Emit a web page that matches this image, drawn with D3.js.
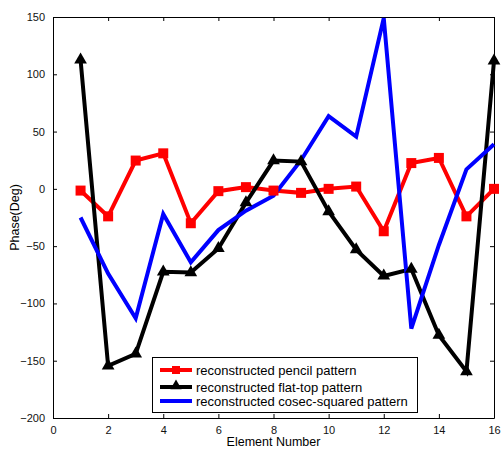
<!DOCTYPE html>
<html lang="en">
<head>
<meta charset="UTF-8">
<title>Phase chart</title>
<script src="https://d3js.org/d3.v7.min.js"></script>
<style>
  body { margin: 0; background: #fff; }
  svg { font-family: "Liberation Sans", Arial, sans-serif; }
  .axis text { font-size: 11px; fill: #111; }
  .axis path, .axis line { stroke: #000; }
</style>
</head>
<body>
<svg width="501" height="450"></svg>
<script>
var elements = d3.range(1, 17);
var pencil = [-1.5, -24, 24.7, 31, -30, -2, 1.5, -1.5, -3.5, 0, 2, -37, 22.5, 27, -24, 0];
var flatTop = [112.6, -154.5, -144, -72.4, -73, -52, -12, 24.7, 23.8, -19.8, -53, -76, -70, -127.7, -159.4, 111.7];
var cosec = [-25, -74, -113, -22, -64, -36, -19, -6, 25, 63.5, 45.6, 149, -122, -49, 17, 39];
var xTicks = [0, 2, 4, 6, 8, 10, 12, 14, 16];
var yTicks = [-200, -150, -100, -50, 0, 50, 100, 150];
var labels = ["reconstructed pencil pattern", "reconstructed flat-top pattern", "reconstructed cosec-squared pattern"];

var svg = d3.select("svg");
var x = d3.scaleLinear().domain([0, 16]).range([53, 494]);
var y = d3.scaleLinear().domain([-200, 150]).range([418, 17]);

// axes with inward ticks, matlab style box
svg.append("g").attr("class", "axis")
  .attr("transform", "translate(0," + y(-200) + ")")
  .call(d3.axisBottom(x).tickValues(xTicks).tickSizeInner(-4).tickSizeOuter(0).tickPadding(8));
svg.append("g").attr("class", "axis")
  .attr("transform", "translate(0," + y(150) + ")")
  .call(d3.axisTop(x).tickValues(xTicks).tickSizeInner(-4).tickSizeOuter(0).tickFormat(""));
svg.append("g").attr("class", "axis")
  .attr("transform", "translate(" + x(0) + ",0)")
  .call(d3.axisLeft(y).tickValues(yTicks).tickSizeInner(-4).tickSizeOuter(0).tickPadding(8));
svg.append("g").attr("class", "axis")
  .attr("transform", "translate(" + x(16) + ",0)")
  .call(d3.axisRight(y).tickValues(yTicks).tickSizeInner(-4).tickSizeOuter(0).tickFormat(""));

svg.append("text").attr("x", (x(0) + x(16)) / 2).attr("y", 446)
  .attr("text-anchor", "middle").style("font-size", "12.5px").text("Element Number");
svg.append("text").attr("transform", "translate(19," + (y(-200) + y(150)) / 2 + ") rotate(-90)")
  .attr("text-anchor", "middle").style("font-size", "12.5px").text("Phase(Deg)");

var line = d3.line().x(function(d, i) { return x(elements[i]); }).y(function(d) { return y(d); });

var series = [
  { vals: pencil, color: "#ff0000", marker: "square" },
  { vals: flatTop, color: "#000000", marker: "triangle" },
  { vals: cosec, color: "#0000ff", marker: "none" }
];

series.forEach(function(s) {
  svg.append("path").datum(s.vals)
    .attr("d", line).attr("fill", "none")
    .attr("stroke", s.color).attr("stroke-width", 4).attr("stroke-linejoin", "miter");
});

// markers
svg.selectAll(".sq").data(pencil).enter().append("rect")
  .attr("x", function(d, i) { return x(elements[i]) - 5; })
  .attr("y", function(d) { return y(d) - 5; })
  .attr("width", 10).attr("height", 10).attr("fill", "#ff0000");
var tri = d3.symbol().type(d3.symbolTriangle).size(70);
svg.selectAll(".tri").data(flatTop).enter().append("path")
  .attr("d", tri)
  .attr("transform", function(d, i) { return "translate(" + x(elements[i]) + "," + y(d) + ")"; })
  .attr("fill", "#000");

// legend
var lg = svg.append("g");
lg.append("rect").attr("x", 152.5).attr("y", 357.5).attr("width", 265).attr("height", 55)
  .attr("fill", "#fff").attr("stroke", "#000").attr("stroke-width", 1);
var rows = [370, 387, 401];
series.forEach(function(s, i) {
  lg.append("line").attr("x1", 160).attr("x2", 192).attr("y1", rows[i]).attr("y2", rows[i])
    .attr("stroke", s.color).attr("stroke-width", 4);
  if (s.marker === "square") {
    lg.append("rect").attr("x", 172).attr("y", rows[i] - 4).attr("width", 8).attr("height", 8).attr("fill", s.color);
  } else if (s.marker === "triangle") {
    lg.append("path").attr("d", d3.symbol().type(d3.symbolTriangle).size(55))
      .attr("transform", "translate(176," + (rows[i] - 1) + ")").attr("fill", s.color);
  }
  lg.append("text").attr("x", 196).attr("y", rows[i] + 4.5).style("font-size", "13px").text(labels[i]);
});
</script>
</body>
</html>
